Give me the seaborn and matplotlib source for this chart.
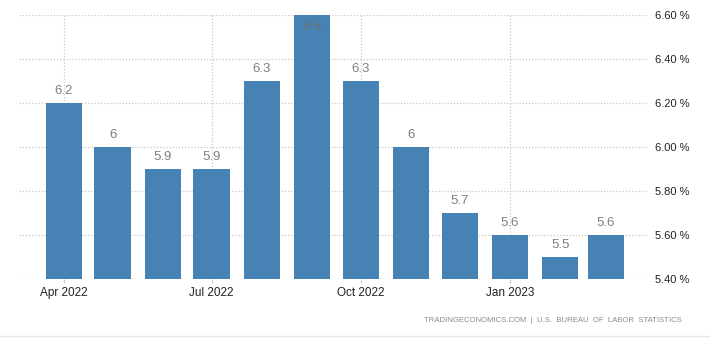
import matplotlib
matplotlib.use("Agg")
import matplotlib.pyplot as plt
import matplotlib.dates as mdates
import matplotlib.ticker as mticker
import pandas as pd
import seaborn as sns

# Monthly rate, one bar per month
months = ["2022-04-01", "2022-05-01", "2022-06-01", "2022-07-01",
          "2022-08-01", "2022-09-01", "2022-10-01", "2022-11-01",
          "2022-12-01", "2023-01-01", "2023-02-01", "2023-03-01"]
rates = [6.2, 6.0, 5.9, 5.9, 6.3, 6.6, 6.3, 6.0, 5.7, 5.6, 5.5, 5.6]
value_labels = ["6.2", "6", "5.9", "5.9", "6.3", "6.6",
                "6.3", "6", "5.7", "5.6", "5.5", "5.6"]
y_ticks = [5.40, 5.60, 5.80, 6.00, 6.20, 6.40, 6.60]
x_range = ["2022-03-04 07:00", "2023-03-27 02:00"]
footer = "TRADINGECONOMICS.COM  |  U.S.  BUREAU  OF  LABOR  STATISTICS"

sns.set_theme(style="white")
plt.rcParams["font.family"] = ["Liberation Sans", "DejaVu Sans"]

W, H = 710, 338
fig = plt.figure(figsize=(W / 100, H / 100), dpi=100)
ax = fig.add_axes([19 / W, 1 - 279 / H, (648 - 19) / W, (279 - 15) / H])

df = pd.DataFrame({
    "date": mdates.date2num(pd.to_datetime(months)),
    "rate": rates,
})

sns.barplot(data=df, x="date", y="rate", native_scale=True,
            color="#4682b4", saturation=1, errorbar=None,
            width=0.8, linewidth=0, ax=ax, zorder=2)

x0, x1 = mdates.date2num(pd.to_datetime(x_range))
ax.set_xlim(x0, x1)
ax.set_ylim(y_ticks[0], y_ticks[-1])

# quarterly date ticks
ax.xaxis.set_major_locator(mdates.MonthLocator(bymonth=[1, 4, 7, 10]))
ax.xaxis.set_major_formatter(mdates.DateFormatter("%b %Y"))

ax.yaxis.tick_right()
ax.set_yticks(y_ticks)
ax.yaxis.set_major_formatter(mticker.FuncFormatter(lambda v, p: f"{v:.2f} %"))

ax.set_xlabel("")
ax.set_ylabel("")
for s in ax.spines.values():
    s.set_visible(False)

ax.grid(True, which="major", axis="both", color="#c8c8c8",
        linestyle=(0, (1, 1.5)), linewidth=0.9, zorder=0)
ax.set_axisbelow(True)

ax.tick_params(axis="x", which="major", bottom=True, length=3, width=0.8,
               color="#cccccc", pad=3, labelsize=8.5, labelcolor="#222222")
ax.tick_params(axis="y", which="major", right=False, left=False, length=0,
               pad=5, labelsize=8, labelcolor="#222222")

# value labels above each bar (inside when the bar reaches the top)
top = y_ticks[-1]
for d, r, lbl in zip(df["date"], rates, value_labels):
    if r >= top - 0.05:
        off, col = -8.5, "#6f6f6f"
    else:
        off, col = 9, "#7f7f7f"
    ax.annotate(lbl, (d, r), xytext=(0, off), textcoords="offset points",
                ha="center", va="center", fontsize=9.5, color=col,
                zorder=3)

fig.text(682 / W, 1 - 321 / H, footer, ha="right", va="center",
         fontsize=5.6, color="#8c8c8c")

# faint border line at the bottom of the figure
fig.add_artist(plt.Line2D([0, 1], [1 - 336 / H, 1 - 336 / H],
                          transform=fig.transFigure, color="#e8e8e8",
                          linewidth=1))

fig.savefig("out.png", dpi=100)
